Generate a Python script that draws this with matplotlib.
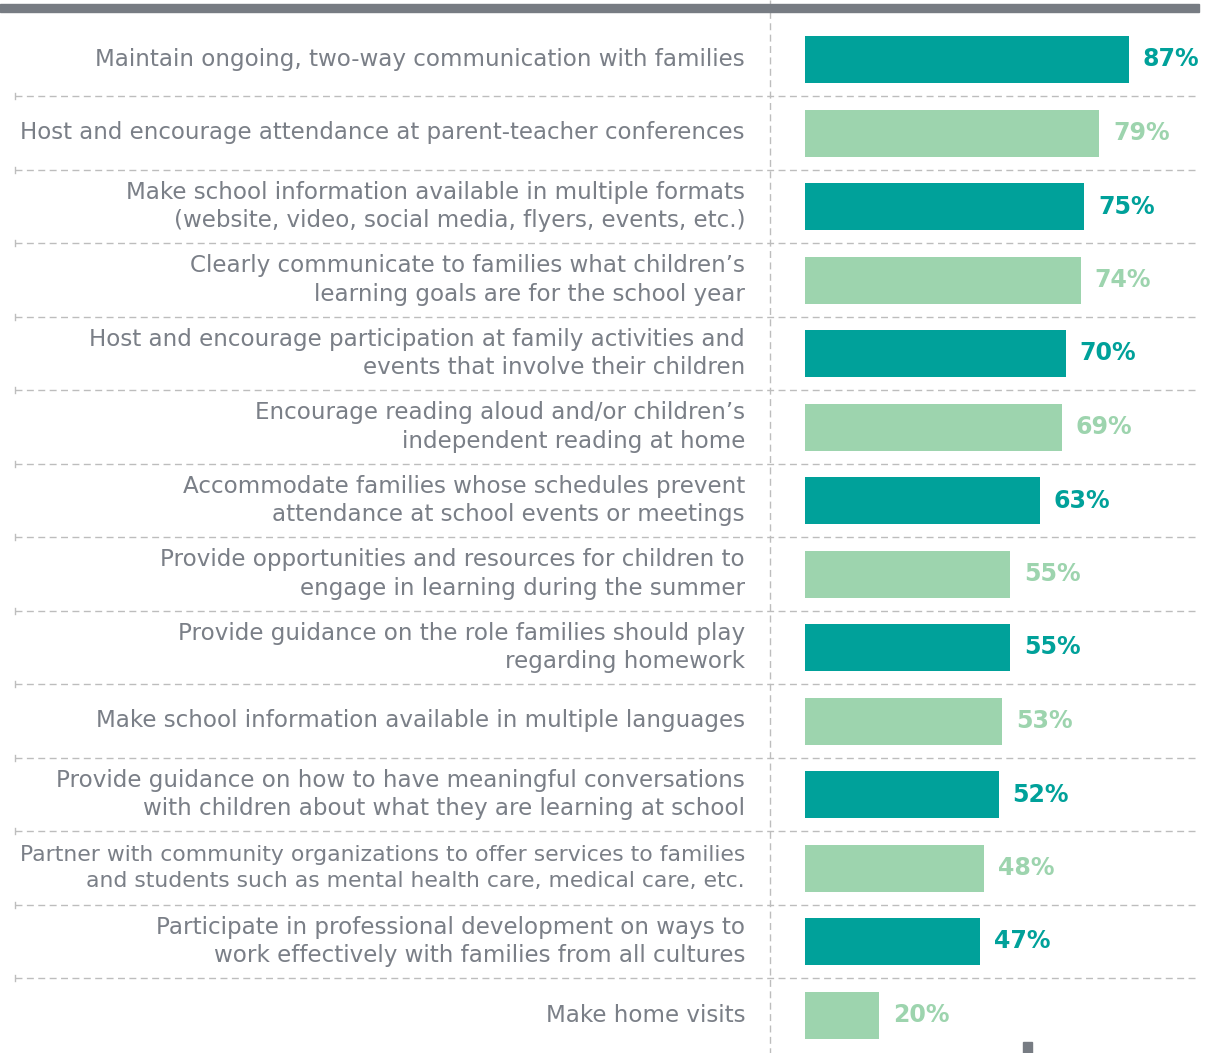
import matplotlib
matplotlib.use("Agg")
import matplotlib.pyplot as plt
from matplotlib.patches import Rectangle

categories = [
    "Maintain ongoing, two-way communication with families",
    "Host and encourage attendance at parent-teacher conferences",
    "Make school information available in multiple formats\n(website, video, social media, flyers, events, etc.)",
    "Clearly communicate to families what children\u2019s\nlearning goals are for the school year",
    "Host and encourage participation at family activities and\nevents that involve their children",
    "Encourage reading aloud and/or children\u2019s\nindependent reading at home",
    "Accommodate families whose schedules prevent\nattendance at school events or meetings",
    "Provide opportunities and resources for children to\nengage in learning during the summer",
    "Provide guidance on the role families should play\nregarding homework",
    "Make school information available in multiple languages",
    "Provide guidance on how to have meaningful conversations\nwith children about what they are learning at school",
    "Partner with community organizations to offer services to families\nand students such as mental health care, medical care, etc.",
    "Participate in professional development on ways to\nwork effectively with families from all cultures",
    "Make home visits",
]
values = [87, 79, 75, 74, 70, 69, 63, 55, 55, 53, 52, 48, 47, 20]

TEAL = "#00a19a"
LIGHT = "#9dd4ae"
GRAY_TEXT = "#7a7f87"
GRAY_BAR = "#777c83"
DASH = "#bdbdbd"

W, H = 1210, 1053
fig = plt.figure(figsize=(W / 100, H / 100), dpi=100)
ax = fig.add_axes([0, 0, 1, 1])

PX = 3.724   # pixels per percent
X0 = 805     # pixel of 0%
Y0 = 59.5    # pixel center of first row
PITCH = 73.5


def px_x(p):
    return (p - X0) / PX


def px_y(p):
    return (p - Y0) / PITCH


ax.set_xlim(px_x(0), px_x(W))
ax.set_ylim(px_y(H), px_y(0))
ax.axis("off")

n = len(values)
colors = [TEAL if i % 2 == 0 else LIGHT for i in range(n)]
ypos = list(range(n))
ax.barh(ypos, values, height=47 / PITCH, color=colors, zorder=3)

for i, (v, c) in enumerate(zip(values, colors)):
    ax.annotate(f"{v}%", (v, i), xytext=(10, 0), textcoords="offset points",
                ha="left", va="center", fontsize=17, fontweight="bold",
                color=c, zorder=4)

renderer = fig.canvas.get_renderer()
MAXW = 722
for i, lab in enumerate(categories):
    t = ax.text(px_x(745), i, lab, ha="right", va="center", fontsize=16.6,
                color=GRAY_TEXT, linespacing=1.32, zorder=4)
    w = t.get_window_extent(renderer).width
    if w > MAXW:
        t.set_fontsize(16.6 * MAXW / w)

# separators
for i in range(n - 1):
    y = i + 0.5
    ax.plot([px_x(15), px_x(1198)], [y, y], ls=(0, (5, 3.2)), lw=1.0,
            color=DASH, zorder=1)
    ax.plot([px_x(15), px_x(15)], [y - 3 / PITCH, y + 3 / PITCH], lw=1.0,
            color=DASH, zorder=1)

# vertical divider
ax.plot([px_x(770), px_x(770)], [px_y(0), px_y(H)], ls=(0, (5, 3.2)), lw=1.0,
        color=DASH, zorder=1)

# top rule
ax.add_patch(Rectangle((px_x(0), px_y(4)), px_x(1199) - px_x(0),
                       px_y(12) - px_y(4), color=GRAY_BAR, zorder=5))
# small bottom mark
ax.add_patch(Rectangle((px_x(1023), px_y(1042)), px_x(1032) - px_x(1023),
                       px_y(H + 2) - px_y(1042), color=GRAY_BAR, zorder=5))

fig.savefig("out.png", dpi=100)
